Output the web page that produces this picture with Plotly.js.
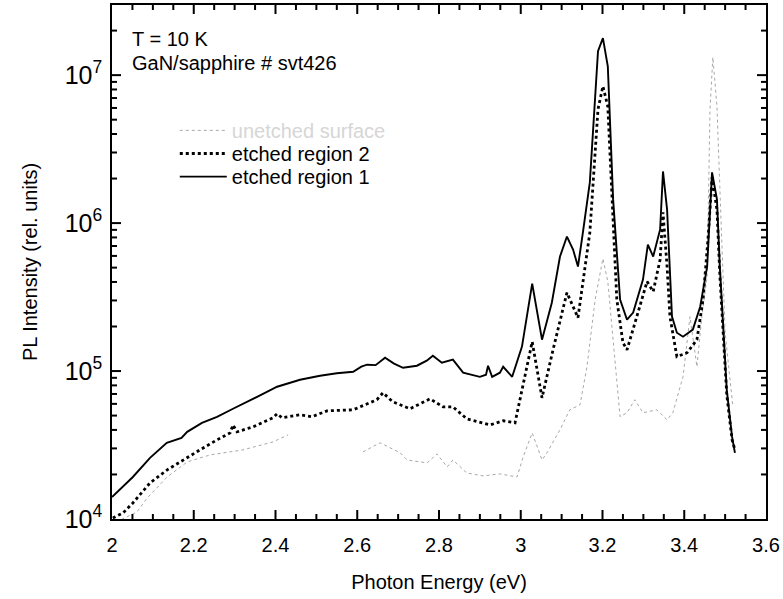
<!DOCTYPE html>
<html>
<head>
<meta charset="utf-8">
<script src="https://cdn.plot.ly/plotly-3.0.1.min.js"></script>
<style>html,body{margin:0;padding:0;background:#fff;}#chart{width:783px;height:599px;}</style>
</head>
<body>
<div id="chart"></div>
<script>
// Etched region 1 (solid)
const energy1 = [2.000,2.051,2.093,2.134,2.170,2.184,2.220,2.257,2.296,2.330,2.355,2.404,2.430,2.460,2.509,2.550,2.590,2.610,2.624,2.645,2.668,2.690,2.712,2.746,2.770,2.785,2.807,2.834,2.859,2.880,2.900,2.915,2.920,2.930,2.949,2.957,2.979,3.003,3.028,3.052,3.076,3.096,3.113,3.128,3.140,3.152,3.169,3.189,3.201,3.213,3.226,3.243,3.260,3.275,3.299,3.311,3.324,3.341,3.348,3.358,3.370,3.382,3.397,3.421,3.439,3.456,3.468,3.480,3.487,3.504,3.517,3.524];
const logI1 = [4.149,4.284,4.413,4.515,4.548,4.589,4.650,4.691,4.745,4.790,4.826,4.894,4.915,4.941,4.968,4.985,4.995,5.030,5.043,5.040,5.090,5.050,5.022,5.036,5.070,5.104,5.056,5.077,4.989,4.975,4.961,4.975,5.036,4.961,4.989,5.029,4.961,5.165,5.591,5.212,5.462,5.774,5.909,5.821,5.706,5.936,6.275,7.162,7.250,7.060,6.160,5.483,5.347,5.395,5.618,5.855,5.774,5.957,6.349,6.092,5.368,5.259,5.232,5.280,5.435,5.706,6.343,6.160,5.706,4.873,4.555,4.447];

// Etched region 2 (dotted)
const energy2 = [2.002,2.027,2.051,2.093,2.135,2.174,2.215,2.257,2.289,2.296,2.306,2.345,2.394,2.404,2.416,2.460,2.489,2.526,2.590,2.648,2.663,2.687,2.729,2.778,2.810,2.834,2.868,2.925,2.957,2.986,3.003,3.028,3.052,3.079,3.113,3.140,3.152,3.169,3.189,3.201,3.213,3.226,3.235,3.250,3.260,3.284,3.309,3.324,3.341,3.348,3.358,3.365,3.382,3.407,3.431,3.446,3.458,3.468,3.480,3.487,3.504,3.517,3.524];
const logI2 = [4.007,4.041,4.108,4.244,4.332,4.399,4.467,4.535,4.582,4.636,4.589,4.623,4.684,4.711,4.684,4.704,4.691,4.731,4.738,4.806,4.853,4.792,4.745,4.812,4.758,4.758,4.677,4.636,4.664,4.650,4.873,5.198,4.819,5.144,5.530,5.361,5.598,5.936,6.769,6.925,6.789,6.045,5.483,5.192,5.144,5.368,5.605,5.537,5.754,6.072,5.706,5.368,5.097,5.124,5.212,5.483,5.889,6.309,6.092,5.652,4.840,4.535,4.467];

// Unetched surface (light grey, faint; gap where the trace is not visible)
const energy3 = [2.010,2.061,2.086,2.135,2.184,2.240,2.320,2.394,2.431,2.520,2.614,2.656,2.705,2.722,2.771,2.795,2.820,2.834,2.868,2.908,2.949,2.991,3.006,3.028,3.052,3.064,3.096,3.120,3.145,3.162,3.182,3.201,3.213,3.226,3.243,3.260,3.279,3.299,3.333,3.358,3.372,3.397,3.414,3.431,3.443,3.456,3.463,3.470,3.480,3.487,3.492,3.500,3.519];
const logI3 = [3.980,4.047,4.142,4.284,4.386,4.433,4.467,4.521,4.569,null,4.454,4.515,4.447,4.399,4.379,4.440,4.352,4.399,4.311,4.291,4.305,4.284,4.420,4.582,4.399,4.447,4.603,4.738,4.772,5.029,5.483,5.760,5.605,5.192,4.691,4.718,4.806,4.718,4.738,4.670,4.718,4.961,5.368,5.029,5.368,5.638,6.769,7.121,6.789,6.248,5.821,5.259,4.758];

const seriesNames = ["unetched surface", "etched region 2", "etched region 1"];

const toLin = a => a.map(v => v === null ? null : Math.pow(10, v));

const FONT = "Liberation Sans, Arial, Helvetica, sans-serif";
const XR = [2, 3.6], YR = [4, 7.474];

// Tick marks (axis decoration) drawn as pixel-length shapes at tick values, on all four sides
const tickShapes = [];
function xTick(v, len) {
  [[0, 1], [1, -1]].forEach(([anc, dir]) => tickShapes.push({type: "line",
    xref: "x", yref: "paper", ysizemode: "pixel", yanchor: anc, x0: v, x1: v, y0: 0, y1: dir * len,
    line: {color: "#000", width: 2}}));
}
function yTick(v, len) {
  const f = (Math.log10(v) - YR[0]) / (YR[1] - YR[0]);
  [[0, 1], [1, -1]].forEach(([anc, dir]) => tickShapes.push({type: "line",
    xref: "paper", yref: "paper", xsizemode: "pixel", xanchor: anc, x0: 0, x1: dir * len, y0: f, y1: f,
    line: {color: "#000", width: 2}}));
}
for (let i = 1; i < 32; i++) xTick(+(2 + i * 0.05).toFixed(2), i % 4 === 0 ? 9 : 5);
for (let d = 4; d <= 7; d++) {
  for (let m = 1; m <= 9; m++) {
    const v = m * Math.pow(10, d);
    if (Math.log10(v) > YR[0] + 1e-9 && Math.log10(v) < YR[1]) yTick(v, m === 1 ? 9 : 5);
  }
}

const traces = [
  {x: energy3, y: toLin(logI3), name: '<span style="color:#d6d6d6">' + seriesNames[0] + '</span>',
   legend: "legend", mode: "lines", connectgaps: false, line: {color: "#a8a8a8", width: 1, dash: "dot"}},
  {x: energy2, y: toLin(logI2), name: seriesNames[1], legend: "legend2", mode: "lines",
   line: {color: "#000", width: 2.8, dash: "dot"}},
  {x: energy1, y: toLin(logI1), name: seriesNames[2], legend: "legend3", mode: "lines",
   line: {color: "#000", width: 1.9}}
];

const legBase = {xanchor: "left", yanchor: "top", bgcolor: "rgba(0,0,0,0)",
  font: {family: FONT, size: 20, color: "#000"}, itemwidth: 47, borderwidth: 0};

const layout = {
  width: 783, height: 599,
  margin: {l: 112, r: 17, t: 5, b: 80},
  paper_bgcolor: "#fff", plot_bgcolor: "#fff",
  font: {family: FONT, size: 20, color: "#000"},
  showlegend: true,
  hovermode: false,
  legend:  Object.assign({x: 0.096, y: 0.794}, legBase),
  legend2: Object.assign({x: 0.096, y: 0.749}, legBase),
  legend3: Object.assign({x: 0.096, y: 0.704}, legBase),
  xaxis: {
    range: XR, tickmode: "linear", tick0: 2, dtick: 0.2,
    ticks: "", showline: true, linecolor: "#000", linewidth: 1.5, mirror: true,
    showgrid: false, zeroline: false,
    tickfont: {family: FONT, size: 20}, ticklabelstandoff: 7,
    title: {text: "Photon Energy (eV)", font: {family: FONT, size: 20}, standoff: 20}
  },
  yaxis: {
    type: "log", range: YR, tickmode: "linear", tick0: 0, dtick: 1,
    exponentformat: "power", showexponent: "all",
    ticks: "", showline: true, linecolor: "#000", linewidth: 1.5, mirror: true,
    showgrid: false, zeroline: false,
    tickfont: {family: FONT, size: 20}, ticklabelstandoff: 4,
    title: {text: "PL Intensity (rel. units)", font: {family: FONT, size: 20}, standoff: 22}
  },
  shapes: tickShapes,
  annotations: [
    {xref: "paper", yref: "paper", x: 0.028, y: 0.934, xanchor: "left", yanchor: "middle",
     text: "T = 10 K", showarrow: false, font: {family: FONT, size: 20, color: "#000"}},
    {xref: "paper", yref: "paper", x: 0.028, y: 0.887, xanchor: "left", yanchor: "middle",
     text: "GaN/sapphire # svt426", showarrow: false, font: {family: FONT, size: 20, color: "#000"}}
  ]
};

Plotly.newPlot("chart", traces, layout, {displayModeBar: false});
</script>
</body>
</html>
